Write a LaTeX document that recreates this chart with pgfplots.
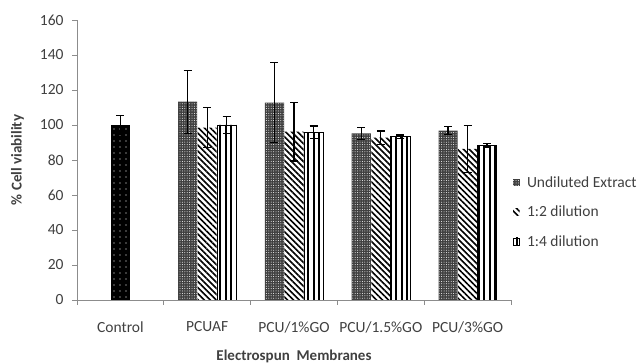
\documentclass[border=0pt]{standalone}
\usepackage{pgfplots}
\pgfplotsset{compat=1.18}
\usepackage{fontspec}
\setmainfont{Carlito}
\usetikzlibrary{patterns.meta}
\definecolor{axgray}{HTML}{8C8C8C}
\definecolor{txt}{HTML}{404040}
\begin{document}
\begin{tikzpicture}
\useasboundingbox (-77pt,-63pt) rectangle (565pt,300pt);
\begin{axis}[
  scale only axis, width=434pt, height=280pt,
  xmin=0, xmax=5, ymin=0, ymax=160,
  axis x line=bottom, axis y line=left,
  axis line style={-, axgray, line width=0.8pt},
  ytick={0,20,...,160},
  xtick={0.5,1.5,2.5,3.5,4.5},
  xticklabels={Control,PCUAF,PCU/1\%GO,PCU/1.5\%GO,PCU/3\%GO},
  minor xtick={0,1,2,3,4,5},
  major x tick style={draw=none},
  tick align=outside,
  tick style={axgray, line width=0.8pt},
  major tick length=5pt, minor tick length=5pt,
  xticklabel style={yshift=-13pt},
  yticklabel style={xshift=-5pt},
  tick label style={font=\fontsize{15.5}{18}\selectfont, text=txt},
  /pgf/number format/assume math mode=true,
  xlabel={\textbf{Electrospun\hspace{0.45em}Membranes}},
  xlabel style={font=\fontsize{15}{18}\selectfont, text=txt, yshift=-10pt},
  ylabel={\textbf{\% Cell viability}},
  ylabel style={font=\fontsize{15}{18}\selectfont, text=txt, yshift=9pt},
  ybar, bar width=0.22,
  legend style={at={(0.997,0.455)}, anchor=north west, draw=none, fill=none,
    font=\fontsize{15.5}{18}\selectfont, text=txt, row sep=13pt,
    /tikz/every even column/.append style={column sep=3pt}},
  legend cell align=left,
  legend image code/.code={\path[#1] (0pt,-3.5pt) rectangle (6.5pt,3.5pt);},
  legend style={/tikz/every odd column/.append style={column sep=5pt}},
  error bars/y dir=both, error bars/y explicit,
  error bars/error bar style={black, line width=1.3pt},
  error bars/error mark options={rotate=90, mark size=4pt, black, line width=1.3pt},
]
% Control
\addplot[bar shift=0, draw=none, fill=black,
  postaction={pattern={Dots[distance=6pt, radius=0.7pt]}, pattern color=white},
  forget plot]
  coordinates {(0.5,100) +- (0,5.5)};
% Undiluted
\addplot[bar shift=-0.225, draw=none, fill=black!75,
  postaction={pattern={Dots[distance=2.4pt, radius=0.5pt]}, pattern color=white}]
  coordinates {(1.5,113.3) +- (0,18) (2.5,112.8) +- (0,23) (3.5,95.2) +- (0,3.3) (4.5,96.8) +- (0,2.4)};
% 1:2
\addplot[bar shift=0, draw=none,
  pattern={Lines[angle=-45, distance=4.2pt, line width=1.6pt]}, pattern color=black]
  coordinates {(1.5,98.5) +- (0,11.5) (2.5,96.2) +- (0,16.8) (3.5,92.8) +- (0,3.8) (4.5,86.3) +- (0,13.5)};
% 1:4
\addplot[bar shift=0.225, draw=black, line width=0.6pt,
  pattern={Lines[angle=90, distance=5.5pt, line width=2pt]}, pattern color=black]
  coordinates {(1.5,100) +- (0,4.7) (2.5,95.8) +- (0,3.6) (3.5,93.3) +- (0,1) (4.5,88.5) +- (0,1)};
\legend{Undiluted Extract,1:2 dilution,1:4 dilution}
\end{axis}
\end{tikzpicture}
\end{document}
